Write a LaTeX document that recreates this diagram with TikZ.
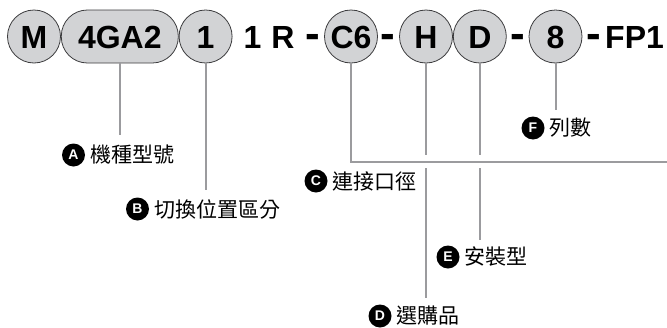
\documentclass[tikz,border=0pt]{standalone}
\usepackage{fontspec}
\setmainfont{Liberation Sans}
\newfontfamily\cjk{Noto Sans CJK TC}
\usetikzlibrary{positioning}
\definecolor{codegray}{RGB}{210,211,213}
\definecolor{edgegray}{RGB}{60,60,62}
\definecolor{leadgray}{RGB}{155,155,158}

\begin{document}
\begin{tikzpicture}[x=1pt, y=-1pt, node distance=0pt,
    code/.style={draw=edgegray, line width=0.8pt, fill=codegray, circle, minimum size=53pt, inner sep=0pt, font=\bfseries\fontsize{32}{32}\selectfont, text height=23pt, text depth=0pt},
    pill/.style={code, rectangle, rounded corners=26pt, minimum width=117pt, minimum height=53pt},
    plain/.style={inner sep=0pt, font=\bfseries\fontsize{32}{32}\selectfont, text height=23pt, text depth=0pt},
    hyph/.style={plain, font=\bfseries\fontsize{44}{44}\selectfont},
    badge/.style={circle, fill=black, text=white, minimum size=23pt, inner sep=0pt, font=\bfseries\fontsize{14}{14}\selectfont},
    item/.style={inner sep=0pt, font=\cjk\fontsize{21}{21}\selectfont},
    lead/.style={draw=leadgray, line width=2pt}]
  \useasboundingbox (0,0) rectangle (667,327);

  % code row
  \node[code] (m) at (34,36.5) {M};
  \node[pill, right=of m] (model) {4GA2};
  \node[code, right=of model] (sw) {1};
  \node[plain] (one) at (252.5,36.5) {1};
  \node[plain] (r) at (283,36.5) {R};
  \node[hyph] (h1) at (312.5,36.5) {-};
  \node[code] (port) at (351,36.5) {C6};
  \node[hyph] (h2) at (387.5,36.5) {-};
  \node[code] (opt) at (426,36.5) {H};
  \node[code, right=of opt] (mount) {D};
  \node[hyph] (h3) at (517.5,36.5) {-};
  \node[code] (rows) at (555.5,36.5) {8};
  \node[hyph] (h4) at (594,36.5) {-};
  \node[plain, anchor=west] (suffix) at (605,36.5) {FP1};

  % labels
  \node[badge] (ba) at (73.5,155) {A};
  \node[item, right=5pt of ba] (la) {機種型號};
  \node[badge] (bb) at (137.5,209) {B};
  \node[item, right=5pt of bb] (lb) {切換位置區分};
  \node[badge] (bc) at (316,181) {C};
  \node[item, right=5pt of bc] (lc) {連接口徑};
  \node[badge] (bd) at (380,316) {D};
  \node[item, right=5pt of bd] (ld) {選購品};
  \node[badge] (be) at (448,257) {E};
  \node[item, right=5pt of be] (le) {安裝型};
  \node[badge] (bf) at (533,128) {F};
  \node[item, right=5pt of bf] (lf) {列數};

  % leader lines
  \coordinate (aend) at (model.south |- 0,135);
  \coordinate (bend) at (sw.south |- 0,190);
  \coordinate (cend) at (667,162);
  \coordinate (dend) at (opt.south |- 0,298);
  \coordinate (eend) at (mount.south |- 0,240);
  \coordinate (fend) at (rows.south |- 0,110);
  \coordinate (gaptop) at (0,155);
  \coordinate (gapbot) at (0,168);

  \draw[lead] (model.south) -- (aend);
  \draw[lead] (sw.south) -- (bend);
  \draw[lead] (port.south) |- (cend);
  \draw[lead] (opt.south) -- (opt.south |- gaptop) (opt.south |- gapbot) -- (dend);
  \draw[lead] (mount.south) -- (mount.south |- gaptop) (mount.south |- gapbot) -- (eend);
  \draw[lead] (rows.south) -- (fend);
\end{tikzpicture}
\end{document}
